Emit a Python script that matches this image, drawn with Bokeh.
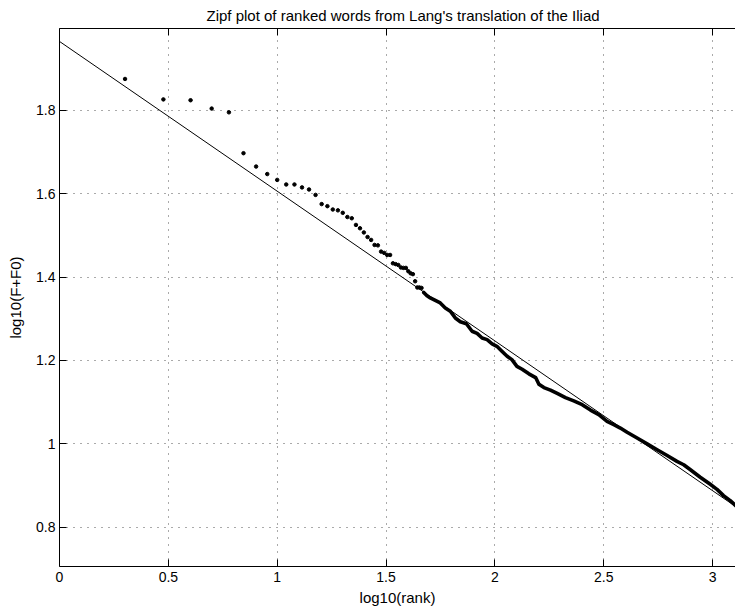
import numpy as np
from bokeh.plotting import figure
from bokeh.models import LinearAxis, FixedTicker, Range1d, CustomLabelingPolicy
from bokeh.embed import file_html
from bokeh.resources import INLINE

# ---------------- data ----------------
title_text = "Zipf plot of ranked words from Lang's translation of the Iliad"
x_label = "log10(rank)"
y_label = "log10(F+F0)"

x_ticks = [0, 0.5, 1, 1.5, 2, 2.5, 3]
x_tick_labels = ["0", "0.5", "1", "1.5", "2", "2.5", "3"]
y_ticks = [0.8, 1.0, 1.2, 1.4, 1.6, 1.8]
y_tick_labels = ["0.8", "1", "1.2", "1.4", "1.6", "1.8"]

# individually visible words (rank and log10(F+F0))
sparse_rank = [2, 3, 4, 5, 6, 7, 8, 9, 10, 11, 12, 13, 14, 15, 16, 17, 18, 19,
               20, 21, 22, 23, 24, 25, 26, 27, 28, 29, 30, 31, 32, 33, 34, 35,
               36, 37, 38, 39, 40, 41, 42, 43, 44, 45, 46]
sparse_logf = [1.875, 1.826, 1.824, 1.804, 1.795, 1.697, 1.665, 1.647, 1.633,
               1.622, 1.622, 1.615, 1.610, 1.597, 1.575, 1.570, 1.562, 1.560,
               1.554, 1.544, 1.541, 1.525, 1.517, 1.507, 1.496, 1.489, 1.477,
               1.476, 1.461, 1.458, 1.453, 1.453, 1.433, 1.431, 1.429, 1.423,
               1.422, 1.422, 1.414, 1.409, 1.407, 1.390, 1.375, 1.375, 1.374]

# densely packed tail (points merge into a thick band)
dense_logrank = [1.673, 1.688, 1.703, 1.726, 1.749, 1.772, 1.795, 1.818, 1.841,
                 1.869, 1.895, 1.918, 1.941, 1.964, 1.987, 2.009, 2.032, 2.056,
                 2.078, 2.101, 2.125, 2.156, 2.187, 2.202, 2.225, 2.255, 2.286,
                 2.324, 2.362, 2.401, 2.439, 2.477, 2.515, 2.546, 2.576, 2.607,
                 2.653, 2.699, 2.745, 2.791, 2.836, 2.867, 2.898, 2.943, 2.989,
                 3.020, 3.050, 3.081, 3.110]
dense_logf = [1.363, 1.355, 1.350, 1.344, 1.338, 1.326, 1.318, 1.302, 1.293,
              1.288, 1.270, 1.265, 1.254, 1.250, 1.240, 1.234, 1.222, 1.210,
              1.202, 1.186, 1.179, 1.168, 1.159, 1.143, 1.135, 1.129, 1.121,
              1.111, 1.103, 1.094, 1.081, 1.070, 1.054, 1.046, 1.038, 1.028,
              1.014, 1.000, 0.986, 0.972, 0.958, 0.950, 0.938, 0.920, 0.903,
              0.891, 0.876, 0.864, 0.850]

# fitted straight line (end points)
fit_x = [0.0, 3.105]
fit_y = [1.965, 0.850]

# ---------------- figure ----------------
FONT = "Liberation Sans"

p = figure(width=735, height=610, output_backend="svg", toolbar_location=None,
           x_range=Range1d(0, 3.105), y_range=Range1d(0.706, 1.996),
           min_border_left=59, min_border_right=0, min_border_top=26,
           min_border_bottom=44)
p.outline_line_color = None
p.background_fill_color = "white"
p.border_fill_color = "white"

p.title.text = title_text
p.title.text_font = FONT
p.title.text_font_size = "15px"
p.title.text_font_style = "normal"
p.title.text_color = "black"
p.title.align = "left"
p.title.offset = 147
p.title.standoff = 9

def style_axis(ax, ticks, labels):
    ax.ticker = FixedTicker(ticks=ticks)
    ax.major_label_overrides = dict(zip(ticks, labels))
    ax.major_tick_in = 7
    ax.major_tick_out = 0
    ax.minor_tick_in = 0
    ax.minor_tick_out = 0
    ax.axis_line_color = "black"
    ax.major_tick_line_color = "black"
    ax.major_label_text_font = FONT
    ax.major_label_text_font_size = "14px"
    ax.major_label_text_color = "black"
    ax.major_label_standoff = 4
    ax.axis_label_text_font = FONT
    ax.axis_label_text_font_size = "15px"
    ax.axis_label_text_font_style = "normal"
    ax.axis_label_text_color = "black"
    ax.axis_label_standoff = 2

style_axis(p.xaxis[0], x_ticks, x_tick_labels)
style_axis(p.yaxis[0], y_ticks, y_tick_labels)
p.xaxis.axis_label = x_label
p.yaxis.axis_label = y_label
p.xaxis.major_label_standoff = 5
p.xaxis.axis_label_standoff = 4
p.yaxis.axis_label_standoff = 9

hide_all = CustomLabelingPolicy(code="""
try { return new indices.constructor(indices.size, 0); } catch (e) { return indices; }
""")
top_axis = LinearAxis(ticker=FixedTicker(ticks=x_ticks),
                      major_label_text_font_size="0px",
                      major_label_policy=hide_all,
                      major_label_standoff=0,
                      major_tick_in=7, major_tick_out=0,
                      minor_tick_in=0, minor_tick_out=0,
                      axis_line_color="black", major_tick_line_color="black")
p.add_layout(top_axis, "above")

p.xgrid.ticker = FixedTicker(ticks=x_ticks)
p.ygrid.ticker = FixedTicker(ticks=y_ticks)
p.grid.grid_line_color = "#555555"
p.grid.grid_line_dash = "1 6"
p.grid.grid_line_width = 1

p.line(fit_x, fit_y, line_color="black", line_width=1)
p.line(dense_logrank, dense_logf, line_color="black", line_width=3.6,
       line_join="round", line_cap="round")
p.scatter(np.log10(np.array(sparse_rank, dtype=float)), sparse_logf,
          marker="circle", size=3.5, fill_color="black", line_color="black")

open("out.html", "w").write(file_html(p, INLINE))
